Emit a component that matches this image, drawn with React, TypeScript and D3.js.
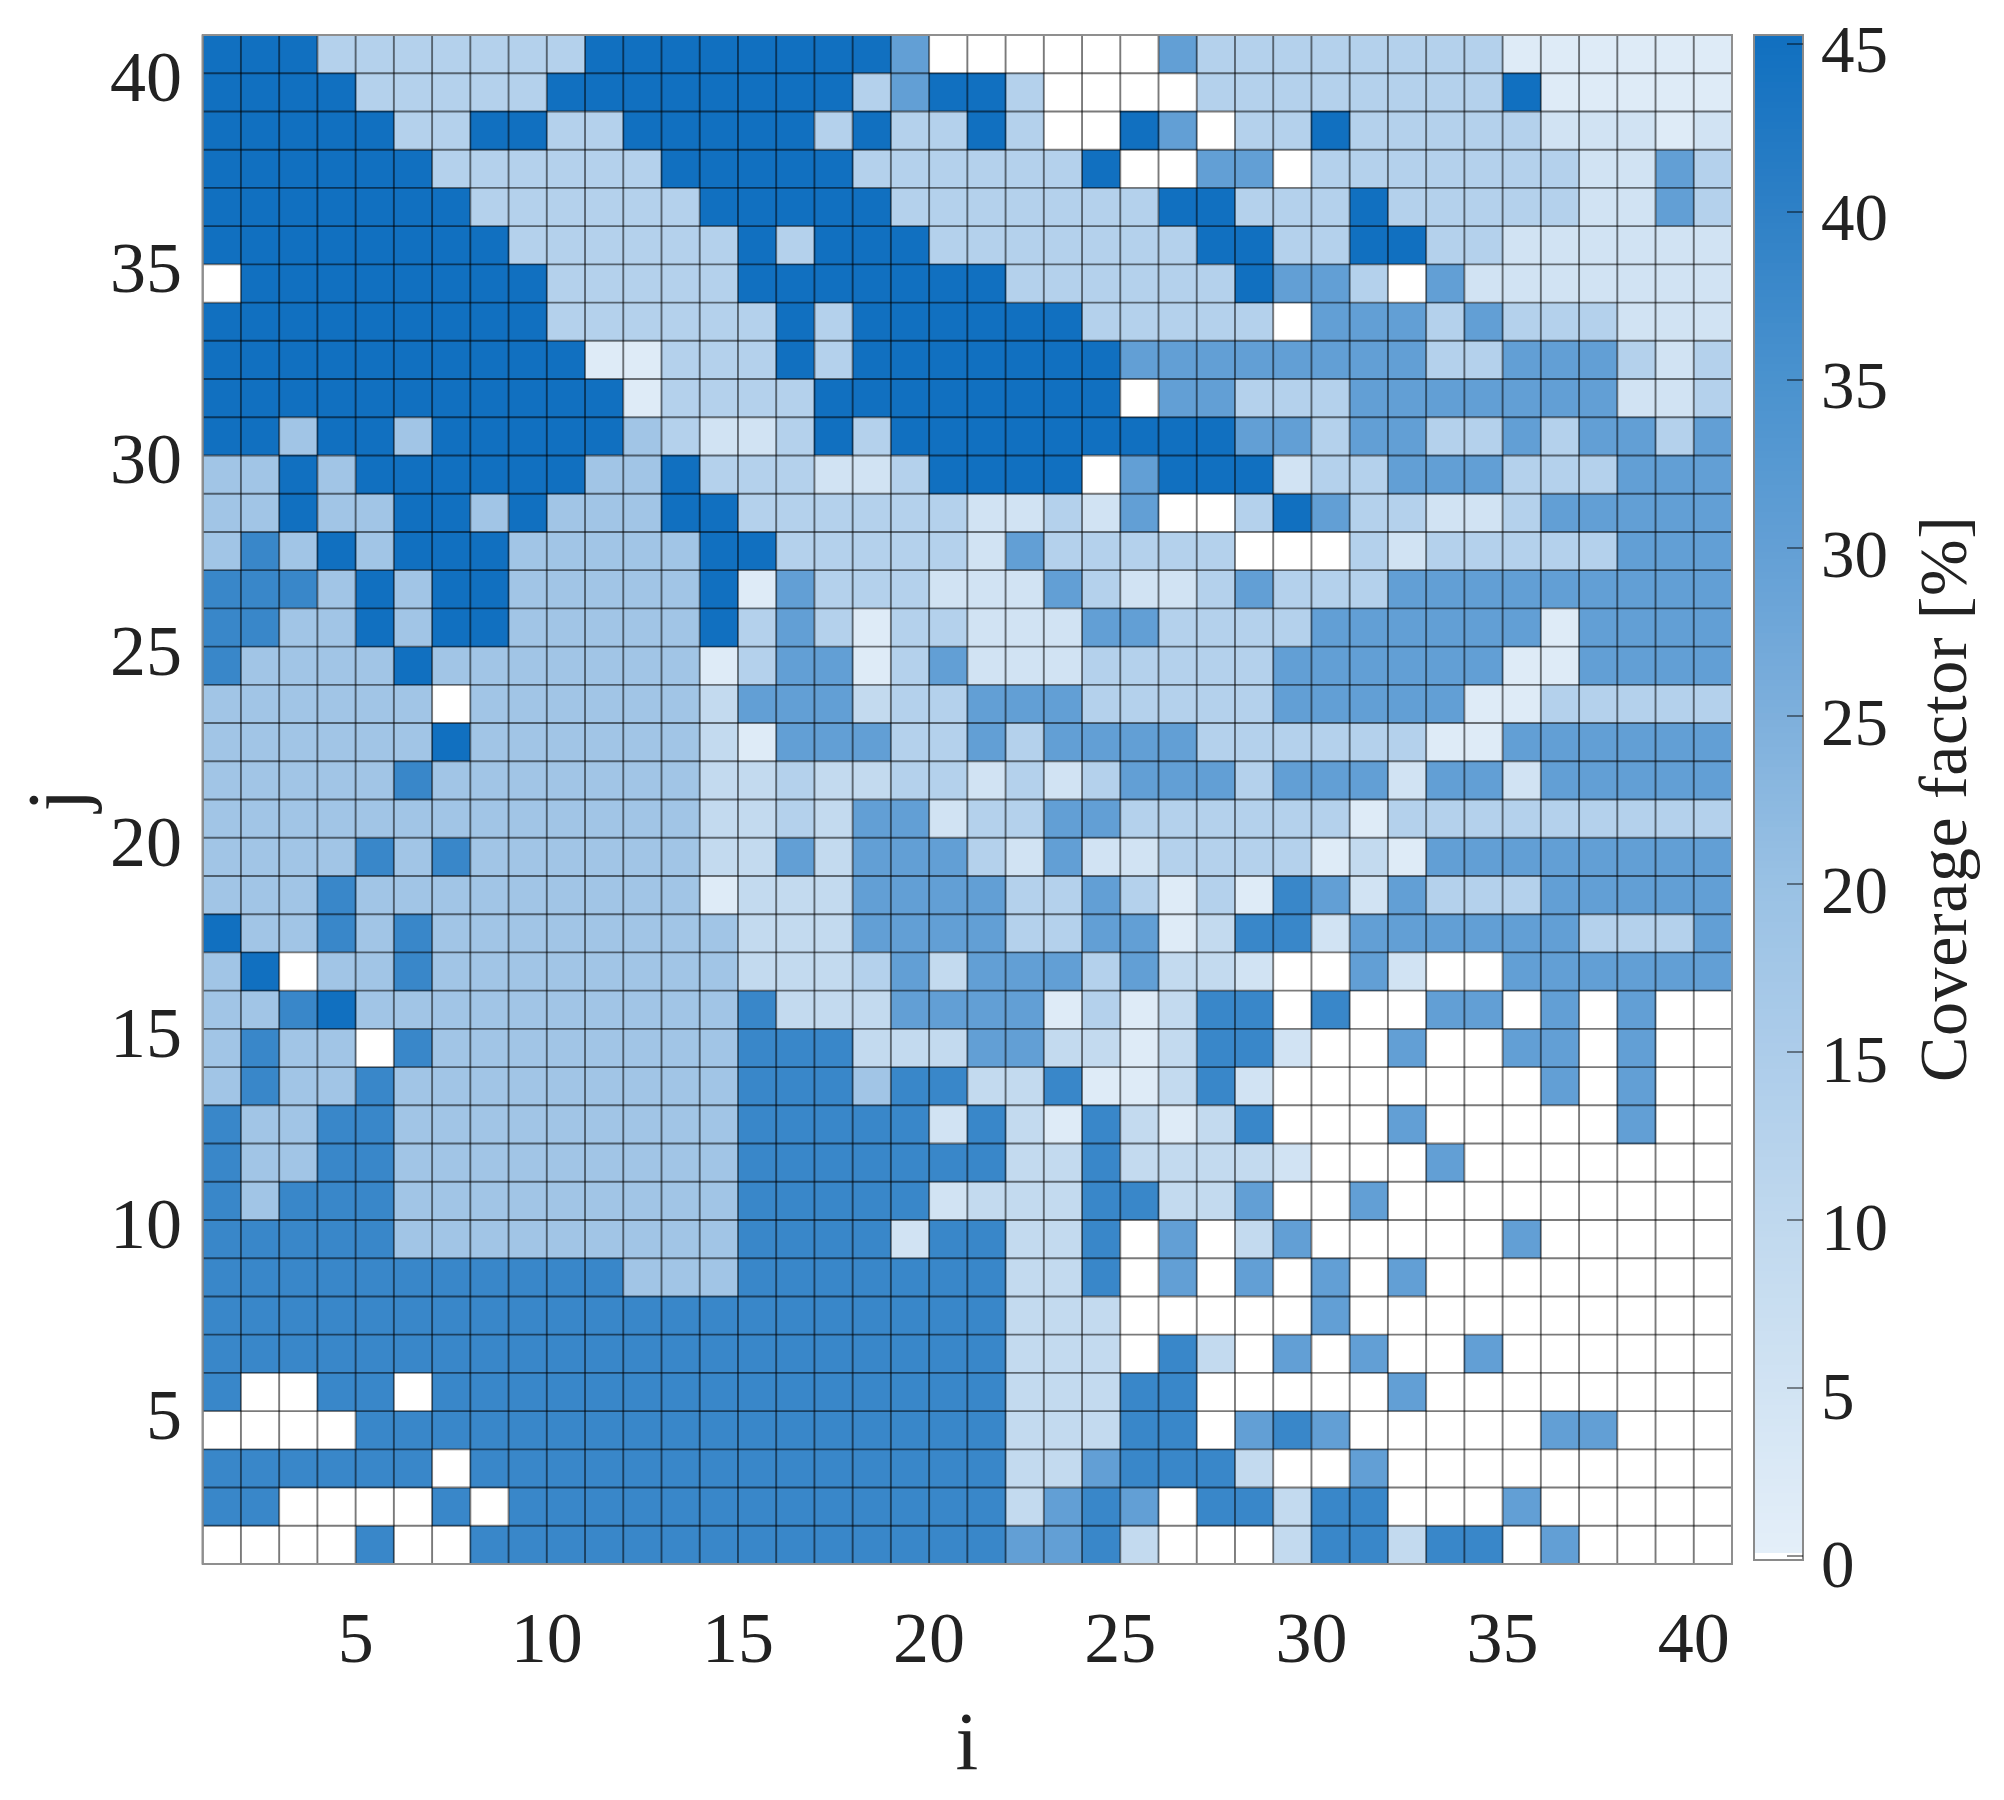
import React from "react";
import * as d3 from "d3";

// Coverage factor levels [%]
const W = 0, a = 1.5, b = 5, c = 9, d = 13, e = 18, f = 30, h = 38, k = 45;

const j40 = [k,k,k,d,d,d,d,d,d,d, k,k,k,k,k,k,k,k,f,W, W,W,W,W,W,f,d,d,d,d, d,d,d,d,a,a,a,a,a,a];
const j39 = [k,k,k,k,d,d,d,d,d,k, k,k,k,k,k,k,k,d,f,k, k,d,W,W,W,W,d,d,d,d, d,d,d,d,k,a,a,a,a,a];
const j38 = [k,k,k,k,k,d,d,k,k,d, d,k,k,k,k,k,d,k,d,d, k,d,W,W,k,f,W,d,d,k, d,d,d,d,d,b,b,b,a,b];
const j37 = [k,k,k,k,k,k,d,d,d,d, d,d,k,k,k,k,k,d,d,d, d,d,d,k,W,W,f,f,W,d, d,d,d,d,d,d,b,b,f,d];
const j36 = [k,k,k,k,k,k,k,d,d,d, d,d,d,k,k,k,k,k,d,d, d,d,d,d,d,k,k,d,d,d, k,d,d,d,d,d,b,b,f,d];
const j35 = [k,k,k,k,k,k,k,k,d,d, d,d,d,d,k,d,k,k,k,d, d,d,d,d,d,d,k,k,d,d, k,k,d,d,b,b,b,b,b,b];
const j34 = [W,k,k,k,k,k,k,k,k,d, d,d,d,d,k,k,k,k,k,k, k,d,d,d,d,d,d,k,f,f, d,W,f,b,b,b,b,b,b,b];
const j33 = [k,k,k,k,k,k,k,k,k,d, d,d,d,d,d,k,d,k,k,k, k,k,k,d,d,d,d,d,W,f, f,f,d,f,d,d,d,b,b,b];
const j32 = [k,k,k,k,k,k,k,k,k,k, a,a,d,d,d,k,d,k,k,k, k,k,k,k,f,f,f,f,f,f, f,f,d,d,f,f,f,d,b,d];
const j31 = [k,k,k,k,k,k,k,k,k,k, k,a,d,d,d,d,k,k,k,k, k,k,k,k,W,f,f,d,d,d, f,f,f,f,f,f,f,b,b,d];
const j30 = [k,k,e,k,k,e,k,k,k,k, k,e,d,b,b,d,k,d,k,k, k,k,k,k,k,k,k,f,f,d, f,f,d,d,f,d,f,f,d,f];
const j29 = [e,e,k,e,k,k,k,k,k,k, e,e,k,d,d,d,b,b,d,k, k,k,k,W,f,k,k,k,b,d, d,f,f,f,d,d,d,f,f,f];
const j28 = [e,e,k,e,e,k,k,e,k,e, e,e,k,k,d,d,d,d,d,d, b,b,d,b,f,W,W,d,k,f, d,d,b,b,d,f,f,f,f,f];
const j27 = [e,h,e,k,e,k,k,k,e,e, e,e,e,k,k,d,d,d,d,d, b,f,d,d,d,d,d,W,W,W, d,b,d,d,d,d,d,f,f,f];
const j26 = [h,h,h,e,k,e,k,k,e,e, e,e,e,k,a,f,d,d,d,b, b,b,f,d,b,b,d,f,d,d, d,f,f,f,f,f,f,f,f,f];
const j25 = [h,h,e,e,k,e,k,k,e,e, e,e,e,k,d,f,d,a,d,d, b,b,b,f,f,d,d,d,d,f, f,f,f,f,f,a,f,f,f,f];
const j24 = [h,e,e,e,e,k,e,e,e,e, e,e,e,a,d,f,f,a,d,f, b,b,b,d,d,d,d,d,f,f, f,f,f,f,a,a,f,f,f,f];
const j23 = [e,e,e,e,e,e,W,e,e,e, e,e,e,c,f,f,f,c,d,d, f,f,f,d,d,d,d,d,f,f, f,f,f,a,a,d,d,d,d,d];
const j22 = [e,e,e,e,e,e,k,e,e,e, e,e,e,c,a,f,f,f,d,d, f,d,f,f,f,f,d,d,d,d, d,d,a,a,f,f,f,f,f,f];
const j21 = [e,e,e,e,e,h,e,e,e,e, e,e,e,c,c,d,c,c,d,d, b,d,b,d,f,f,f,d,f,f, f,b,f,f,b,f,f,f,f,f];
const j20 = [e,e,e,e,e,e,e,e,e,e, e,e,e,c,c,d,c,f,f,b, d,d,f,f,d,d,d,d,d,d, a,d,d,d,d,d,d,d,d,d];
const j19 = [e,e,e,e,h,e,h,e,e,e, e,e,e,c,c,f,c,f,f,f, d,b,f,b,b,d,d,d,d,a, c,a,f,f,f,f,f,f,f,f];
const j18 = [e,e,e,h,e,e,e,e,e,e, e,e,e,a,c,c,c,f,f,f, f,d,d,f,d,a,d,a,h,f, b,f,d,d,d,f,f,f,f,f];
const j17 = [k,e,e,h,e,h,e,e,e,e, e,e,e,e,c,c,c,f,f,f, f,d,d,f,f,a,c,h,h,b, f,f,f,f,f,f,d,d,d,f];
const j16 = [e,k,W,e,e,h,e,e,e,e, e,e,e,e,c,c,c,d,f,c, f,f,f,d,f,c,c,b,W,W, f,b,W,W,f,f,f,f,f,f];
const j15 = [e,e,h,k,e,e,e,e,e,e, e,e,e,e,h,c,c,c,f,f, f,f,a,d,a,c,h,h,W,h, W,W,f,f,W,f,W,f,W,W];
const j14 = [e,h,e,e,W,h,e,e,e,e, e,e,e,e,h,h,h,c,c,c, f,f,c,c,a,c,h,h,b,W, W,f,W,W,f,f,W,f,W,W];
const j13 = [e,h,e,e,h,e,e,e,e,e, e,e,e,e,h,h,h,e,h,h, c,c,h,a,a,c,h,b,W,W, W,W,W,W,W,f,W,f,W,W];
const j12 = [h,e,e,h,h,e,e,e,e,e, e,e,e,e,h,h,h,h,h,b, h,c,a,h,c,a,c,h,W,W, W,f,W,W,W,W,W,f,W,W];
const j11 = [h,e,e,h,h,e,e,e,e,e, e,e,e,e,h,h,h,h,h,h, h,c,c,h,c,c,c,c,b,W, W,W,f,W,W,W,W,W,W,W];
const j10 = [h,e,h,h,h,e,e,e,e,e, e,e,e,e,h,h,h,h,h,b, c,c,c,h,h,c,c,f,W,W, f,W,W,W,W,W,W,W,W,W];
const j9  = [h,h,h,h,h,e,e,e,e,e, e,e,e,e,h,h,h,h,b,h, h,c,c,h,W,f,W,c,f,W, W,W,W,W,f,W,W,W,W,W];
const j8  = [h,h,h,h,h,h,h,h,h,h, h,e,e,e,h,h,h,h,h,h, h,c,c,h,W,f,W,f,W,f, W,f,W,W,W,W,W,W,W,W];
const j7  = [h,h,h,h,h,h,h,h,h,h, h,h,h,h,h,h,h,h,h,h, h,c,c,c,W,W,W,W,W,f, W,W,W,W,W,W,W,W,W,W];
const j6  = [h,h,h,h,h,h,h,h,h,h, h,h,h,h,h,h,h,h,h,h, h,c,c,c,W,h,c,W,f,W, f,W,W,f,W,W,W,W,W,W];
const j5  = [h,W,W,h,h,W,h,h,h,h, h,h,h,h,h,h,h,h,h,h, h,c,c,c,h,h,W,W,W,W, W,f,W,W,W,W,W,W,W,W];
const j4  = [W,W,W,W,h,h,h,h,h,h, h,h,h,h,h,h,h,h,h,h, h,c,c,c,h,h,W,f,h,f, W,W,W,W,W,f,f,W,W,W];
const j3  = [h,h,h,h,h,h,W,h,h,h, h,h,h,h,h,h,h,h,h,h, h,c,c,f,h,h,h,c,W,W, f,W,W,W,W,W,W,W,W,W];
const j2  = [h,h,W,W,W,W,h,W,h,h, h,h,h,h,h,h,h,h,h,h, h,c,f,h,f,W,h,h,c,h, h,W,W,W,f,W,W,W,W,W];
const j1  = [W,W,W,W,h,W,W,h,h,h, h,h,h,h,h,h,h,h,h,h, h,f,f,h,c,W,W,W,c,h, h,c,h,h,W,f,W,W,W,W];

const rows = [j1,j2,j3,j4,j5,j6,j7,j8,j9,j10,j11,j12,j13,j14,j15,j16,j17,j18,j19,j20,
  j21,j22,j23,j24,j25,j26,j27,j28,j29,j30,j31,j32,j33,j34,j35,j36,j37,j38,j39,j40];

const axisTicks = [5, 10, 15, 20, 25, 30, 35, 40];
const barTicks = [0, 5, 10, 15, 20, 25, 30, 35, 40, 45];
const stopValues = [0, 5, 10, 15, 20, 25, 30, 35, 40, 45];
const stopColors = ["#e4eff9","#d1e3f3","#bfd8ee","#acccea","#99c1e4","#7dafdc","#629fd5","#4a92ce","#2e80c6","#1170c0"];

const color = d3.scaleLinear<string>().domain(stopValues).range(stopColors).clamp(true);
const cellColor = (v: number) => (v <= 0 ? "#ffffff" : color(v));

const x = d3.scaleLinear().domain([1, 41]).range([202.7, 1732]);
const y = d3.scaleLinear().domain([1, 41]).range([1564, 35]);
const barY = d3.scaleLinear().domain([0, 45]).range([1556, 44]);
const barSteps = d3.range(0.1, 45, 0.2);
const gridEdges = d3.range(1, 42);
const serif = "'Liberation Serif', serif";
const ink = "#222222";

export default function App() {
  return (
    <svg width={2004} height={1800} style={{ position: "absolute", left: 0, top: 0, display: "block", background: "#fff", filter: "blur(0.55px)" }} fontFamily={serif}>
      <g>
        {rows.map((row, rj) =>
          row.map((v, ri) => (
            <rect key={`${ri}-${rj}`} x={x(ri + 1)} y={y(rj + 2)} width={x(ri + 2) - x(ri + 1)} height={y(rj + 1) - y(rj + 2)} fill={cellColor(v)} shapeRendering="crispEdges" />
          ))
        )}
      </g>
      <g stroke="#000" strokeOpacity={0.52} strokeWidth={1.9}>
        {gridEdges.map((g) => <line key={`v${g}`} x1={x(g)} x2={x(g)} y1={y(1)} y2={y(41)} />)}
        {gridEdges.map((g) => <line key={`h${g}`} x1={x(1)} x2={x(41)} y1={y(g)} y2={y(g)} />)}
      </g>
      <rect x={x(1)} y={y(41)} width={x(41) - x(1)} height={y(1) - y(41)} fill="none" stroke="#8f8f8f" strokeWidth={2} />

      <g fill={ink}>
        <g fontSize={72}>
          {axisTicks.map((t) => <text key={t} x={x(t)} y={1662} textAnchor="middle">{t}</text>)}
          {axisTicks.map((t) => <text key={t} x={182} y={y(t) + 28} textAnchor="end">{t}</text>)}
        </g>
        <g fontSize={67}>
          {barTicks.map((t) => <text key={t} x={1821} y={barY(t) + 31 - (3.5 * t) / 45}>{t}</text>)}
        </g>
        <text x={967} y={1769} textAnchor="middle" fontSize={82}>i</text>
        <text transform="translate(84,800) rotate(-90)" textAnchor="middle" fontSize={82}>j</text>
        <text transform="translate(1966,799) rotate(-90)" textAnchor="middle" fontSize={68} textLength={566} lengthAdjust="spacing">Coverage factor [%]</text>
      </g>

      <g>
        <rect x={1754} y={35} width={49} height={1525} fill="#ffffff" />
        <rect x={1754} y={35} width={49} height={barY(44.8) - 35} fill={color(45)} shapeRendering="crispEdges" />
        {barSteps.map((s) => (
          <rect key={s} x={1754} y={barY(s + 0.2)} width={49} height={barY(s) - barY(s + 0.2) + 0.6} fill={color(s)} shapeRendering="crispEdges" />
        ))}
      </g>
      <rect x={1754} y={35} width={49} height={1525} fill="none" stroke="#8a8a8a" strokeWidth={2} />
      <g stroke="#000" strokeOpacity={0.55} strokeWidth={1.6}>
        {barTicks.map((t) => <line key={t} x1={1787} x2={1803} y1={barY(t)} y2={barY(t)} />)}
      </g>
    </svg>
  );
}
